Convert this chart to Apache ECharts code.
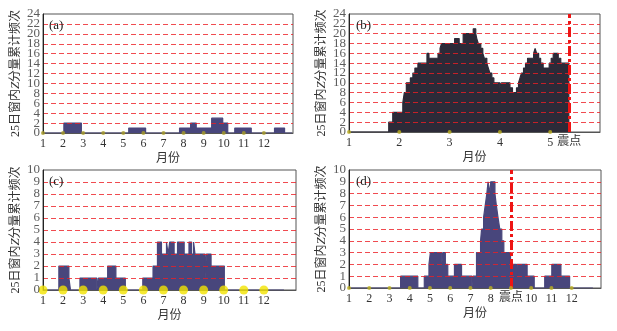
<!DOCTYPE html>
<html>
<head>
<meta charset="utf-8">
<script src="https://cdn.jsdelivr.net/npm/echarts@6/dist/echarts.min.js"></script>
<style>
html, body { margin: 0; padding: 0; background: #fff; }
#main { width: 617px; height: 331px; }
</style>
</head>
<body>
<div id="main"></div>
<script>
// 月份刻度
var monthTicks = [1, 2, 3, 4, 5, 6, 7, 8, 9, 10, 11, 12];
var monthTicksB = [1, 2, 3, 4, 5];
// 纵轴刻度
var yTicksAB = [0, 2, 4, 6, 8, 10, 12, 14, 16, 18, 20, 22, 24];
var yTicksCD = [0, 1, 2, 3, 4, 5, 6, 7, 8, 9, 10];

// (a) 25日窗口累计频次, 阶梯数据 (月份位置, 频次)
var stepAx = [1, 2.04, 2.91, 5.27, 6.11, 7.8, 8.35, 8.63, 9.4, 9.95, 10.2, 10.55, 11.37, 12.53, 13.03, 13.4];
var stepAy = [0, 2, 0, 1, 0, 1, 2, 1, 3, 2, 0, 1, 0, 1, 0, 0];

// (b)
var stepBx = [1, 1.79, 1.87, 2.07, 2.10, 2.14, 2.22, 2.27, 2.31, 2.37, 2.55, 2.59, 2.77, 2.81, 2.84, 3.10, 3.19, 3.27, 3.47, 3.52,
	3.54, 3.57, 3.62, 3.66, 3.69, 3.74, 3.77, 3.80, 3.84, 3.88, 4.00, 4.03, 4.20, 4.25, 4.33, 4.37, 4.40, 4.43, 4.47, 4.51,
	4.55, 4.67, 4.70, 4.73, 4.77, 4.81, 4.86, 4.98, 5.02, 5.06, 5.16, 5.21, 5.37];
var stepBy = [0, 2, 4, 6, 8, 10, 11, 12, 13, 14, 16, 15, 16, 17, 18, 19, 18, 20, 21, 20,
	19, 18, 17, 16, 15, 14, 13, 12, 11, 10, 9, 10, 9, 8, 9, 10, 11, 12, 13, 14,
	15, 16, 17, 16, 15, 14, 13, 14, 15, 16, 15, 14, 0];
var quakeB = 5.38;

// (c)
var stepCx = [1, 1.79, 2.29, 2.37, 2.84, 3.68, 3.76, 4.22, 4.63, 5.10, 5.97, 6.48, 6.70, 6.90, 7.15, 7.23, 7.31, 7.53, 7.70, 8.03,
	8.27, 8.40, 8.50, 8.57, 9.07, 9.14, 9.37, 10.03, 13.0];
var stepCy = [0, 2, 1, 0, 1, 0, 1, 2, 1, 0, 1, 2, 4, 3, 4, 3, 4, 3, 4, 3,
	4, 3, 4, 3, 1, 3, 2, 0, 0];

// (d)
var stepDx = [1, 3.55, 4.40, 4.72, 4.95, 5.02, 5.58, 5.64, 5.76, 5.88, 6.21, 6.56, 7.07, 7.12, 7.30, 7.50, 7.55, 7.65, 7.73, 7.81,
	7.87, 7.96, 8.00, 8.21, 8.28, 8.36, 8.45, 8.55, 8.65, 8.98, 9.28, 9.31, 9.80, 10.15, 10.67, 11.02, 11.47, 11.90, 13.05];
var stepDy = [0, 1, 0, 1, 2, 3, 2, 3, 2, 1, 2, 1, 0, 1, 3, 4, 5, 6, 7, 8,
	9, 8, 9, 8, 7, 6, 5, 4, 3, 2, 1, 2, 1, 0, 1, 2, 1, 0, 0];
var quakeD = 9.0;

var serif = '"Liberation Serif", "Times New Roman", "Noto Sans CJK SC", serif';
var navy = '#48467c';
var dark = '#2c2a38';
var gridRed = 'rgba(236, 30, 36, 0.8)';

function zip(xs, ys) {
	return xs.map(function(x, i) { return [x, ys[i]]; });
}

var grids = [
	{left: 43, top: 14, width: 250, height: 119},
	{left: 349, top: 14, width: 251, height: 118},
	{left: 43, top: 170, width: 253, height: 120},
	{left: 349, top: 170, width: 252, height: 118}
];
grids.forEach(function(g) {
	g.show = true;
	g.borderColor = '#555';
	g.borderWidth = 1;
	g.backgroundColor = 'transparent';
});

var xMax = [13.45, 5.99, 13.6, 13.45];
var lastLabel = [12, 5, 12, 12];

var xAxis = xMax.map(function(mx, i) {
	return {
		gridIndex: i,
		type: 'value',
		min: 1,
		max: mx,
		interval: 1,
		name: '月份',
		nameLocation: 'middle',
		nameGap: 20,
		nameTextStyle: {fontFamily: serif, fontSize: 12, color: '#333'},
		axisLine: {show: true, lineStyle: {color: '#555', width: 1}},
		axisTick: {show: false},
		splitLine: {show: false},
		axisLabel: {
			fontFamily: serif,
			fontSize: 12,
			color: '#333',
			margin: 5,
			showMinLabel: true,
			formatter: function(v) {
				if(v !== Math.round(v) || v > lastLabel[i]) return '';
				if(i === 3 && v === quakeD) return '';
				return v;
			}
		}
	};
});

var yMax = [24, 24, 10, 10];
var yStep = [2, 2, 1, 1];
var yAxis = yMax.map(function(mx, i) {
	return {
		gridIndex: i,
		type: 'value',
		min: 0,
		max: mx,
		interval: yStep[i],
		z: 4,
		name: '25日窗内{i|Z}分量累计频次',
		nameLocation: 'middle',
		nameRotate: 90,
		nameGap: 21,
		nameTextStyle: {
			fontFamily: serif,
			fontSize: 12,
			color: '#333',
			rich: {i: {fontStyle: 'italic', fontFamily: serif, fontSize: 13, color: '#333'}}
		},
		axisLine: {show: true, lineStyle: {color: '#222', width: 1}},
		axisTick: {show: false},
		axisLabel: {show: false},
		splitLine: {
			show: true,
			showMinLine: false,
			showMaxLine: false,
			lineStyle: {color: gridRed, type: [5, 3], width: 1}
		}
	};
});

// 纵轴刻度文字, 挂在左边界上 (避免自动隐藏重叠)
function yLabelSeries(i, ticks) {
	return {
		type: 'scatter',
		xAxisIndex: i,
		yAxisIndex: i,
		symbolSize: 0,
		silent: true,
		z: 5,
		label: {
			show: true,
			position: 'left',
			distance: 3,
			fontFamily: serif,
			fontSize: 13,
			color: '#333',
			formatter: function(p) { return p.value[1]; }
		},
		data: ticks.map(function(v) { return [1, v]; })
	};
}

function stepSeries(i, xs, ys, color) {
	return {
		type: 'line',
		xAxisIndex: i,
		yAxisIndex: i,
		step: 'end',
		symbol: 'none',
		z: 2,
		lineStyle: {color: color, width: 1.2},
		areaStyle: {color: color, opacity: 1},
		data: zip(xs, ys)
	};
}

function dotSeries(i, ticks, size, color) {
	return {
		type: 'scatter',
		xAxisIndex: i,
		yAxisIndex: i,
		symbol: 'circle',
		symbolSize: size,
		z: 5,
		itemStyle: {color: color},
		data: ticks.map(function(m) { return [m, 0]; })
	};
}

function quakeLine(q) {
	return {
		silent: true,
		symbol: ['none', 'none'],
		lineStyle: {color: '#ee1414', width: 3, type: [10, 3, 3, 3]},
		label: {show: true, position: 'start', formatter: '震点', fontFamily: serif, fontSize: 12, color: '#333', distance: 4},
		data: [{xAxis: q}]
	};
}

var dotsB = dotSeries(1, monthTicksB, 4, '#bdb020');
dotsB.markLine = quakeLine(quakeB);
var dotsD = dotSeries(3, monthTicks, 4, '#bdb020');
dotsD.markLine = quakeLine(quakeD);

var labelStyle = {fontFamily: serif, fontSize: 13, fontWeight: 'normal', color: '#222'};
var chart = echarts.init(document.getElementById('main'));
chart.setOption({
	animation: false,
	textStyle: {fontFamily: serif},
	title: [
		{text: '(a)', left: 49, top: 19, padding: 0, textStyle: labelStyle},
		{text: '(b)', left: 356, top: 19, padding: 0, textStyle: labelStyle},
		{text: '(c)', left: 49, top: 175, padding: 0, textStyle: labelStyle},
		{text: '(d)', left: 356, top: 175, padding: 0, textStyle: labelStyle}
	],
	grid: grids,
	xAxis: xAxis,
	yAxis: yAxis,
	series: [
		stepSeries(0, stepAx, stepAy, navy),
		dotSeries(0, monthTicks, 4, '#a89c28'),
		yLabelSeries(0, yTicksAB),
		stepSeries(1, stepBx, stepBy, dark),
		dotsB,
		yLabelSeries(1, yTicksAB),
		stepSeries(2, stepCx, stepCy, navy),
		dotSeries(2, monthTicks, 9, '#f2e400'),
		yLabelSeries(2, yTicksCD),
		stepSeries(3, stepDx, stepDy, navy),
		dotsD,
		yLabelSeries(3, yTicksCD)
	]
});
</script>
</body>
</html>
